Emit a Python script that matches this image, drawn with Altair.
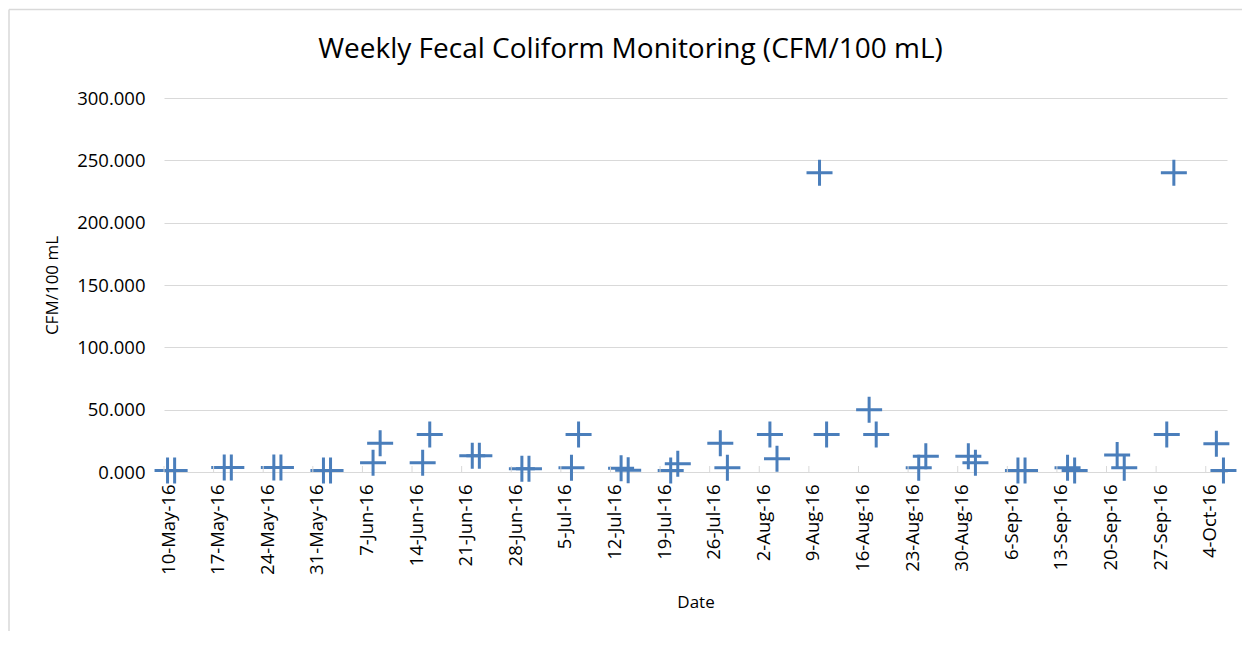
import altair as alt
import pandas as pd

# ---- data ----
dates = [
    "2016-05-10", "2016-05-11", "2016-05-18", "2016-05-19", "2016-05-25", "2016-05-26",
    "2016-06-01", "2016-06-02", "2016-06-08", "2016-06-09", "2016-06-15", "2016-06-16",
    "2016-06-22", "2016-06-23", "2016-06-29", "2016-06-30", "2016-07-06", "2016-07-07",
    "2016-07-13", "2016-07-14", "2016-07-20", "2016-07-21", "2016-07-27", "2016-07-28",
    "2016-08-03", "2016-08-04", "2016-08-10", "2016-08-11", "2016-08-17", "2016-08-18",
    "2016-08-24", "2016-08-25", "2016-08-31", "2016-09-01", "2016-09-07", "2016-09-08",
    "2016-09-14", "2016-09-15", "2016-09-21", "2016-09-22", "2016-09-28", "2016-09-29",
    "2016-10-05", "2016-10-06",
]
values = [
    1.3, 1.3, 3.6, 3.6, 3.6, 3.6,
    1.3, 1.3, 7.5, 23.0, 7.5, 30.0,
    13.0, 13.0, 2.6, 2.6, 3.4, 30.0,
    3.0, 1.5, 1.3, 6.6, 23.0, 3.4,
    30.0, 10.7, 240.0, 30.0, 50.0, 30.0,
    3.4, 12.6, 12.6, 7.5, 1.3, 1.3,
    3.4, 1.3, 13.6, 3.4, 30.0, 240.0,
    22.7, 1.3,
]
tick_dates = [
    "2016-05-10", "2016-05-17", "2016-05-24", "2016-05-31", "2016-06-07", "2016-06-14",
    "2016-06-21", "2016-06-28", "2016-07-05", "2016-07-12", "2016-07-19", "2016-07-26",
    "2016-08-02", "2016-08-09", "2016-08-16", "2016-08-23", "2016-08-30", "2016-09-06",
    "2016-09-13", "2016-09-20", "2016-09-27", "2016-10-04",
]
x_domain = ["2016-05-10", "2016-10-07"]
y_ticks = [0, 50, 100, 150, 200, 250, 300]
chart_title = "Weekly Fecal Coliform Monitoring (CFM/100 mL)"
x_title = "Date"
y_title = "CFM/100 mL"

FONT = "Open Sans"
BLUE = "#4A7EBB"
GRID = "#d9d9d9"
W, H = 1063, 374


def dt(s):
    y, m, d = map(int, s.split("-"))
    return alt.DateTime(year=y, month=m, date=d)


df = pd.DataFrame({"date": dates, "value": values})
ticks_df = pd.DataFrame({"date": tick_dates})
one = pd.DataFrame({"k": [0]})

x_scale = alt.Scale(domain=[dt(x_domain[0]), dt(x_domain[1])], nice=False)
y_scale = alt.Scale(domain=[0, 300], nice=False)

x_axis = alt.Axis(
    values=[dt(s) for s in tick_dates], format="%-d-%b-%y",
    labelAngle=270, labelOffset=4, labelPadding=12, labelFlush=False, labelOverlap=False,
    labelFont=FONT, labelFontSize=18.5, labelColor="#000000",
    ticks=False, grid=False, domainColor=GRID, domainWidth=1,
    title=x_title, titleFont=FONT, titleFontSize=17, titleFontWeight="normal",
    titleColor="#000000", titleX=W / 2, titleY=130, titleBaseline="middle", titleAlign="center",
)
y_axis = alt.Axis(
    values=y_ticks, format=".3f", ticks=False, domain=False,
    grid=True, gridColor=GRID, gridWidth=1,
    labelPadding=19, labelFont=FONT, labelFontSize=18.5, labelColor="#000000",
    title=y_title, titleFont=FONT, titleFontSize=17, titleFontWeight="normal",
    titleColor="#000000", titleX=-111.5, titleY=H / 2, titleAngle=270,
    titleBaseline="middle", titleAlign="center",
)

# each sample sits in the middle of its day, as on a date axis
points = alt.Chart(df).transform_calculate(
    day="datetime(year(datum.date), month(datum.date), date(datum.date), 12)"
).mark_point(
    shape="M-1,0L1,0M0,-1L0,1", size=676, filled=False, strokeWidth=3,
    color=BLUE, opacity=1,
).encode(
    x=alt.X("day:T", scale=x_scale, axis=x_axis),
    y=alt.Y("value:Q", scale=y_scale, axis=y_axis),
)

inner_ticks = alt.Chart(ticks_df).transform_calculate(
    day="datetime(year(datum.date), month(datum.date), date(datum.date))"
).mark_rule(color=GRID, strokeWidth=1).encode(
    x=alt.X("day:T", scale=x_scale, axis=x_axis),
    y=alt.value(H - 6),
    y2=alt.value(H),
)

title_mark = alt.Chart(one).mark_text(
    text=chart_title, font=FONT, fontSize=28, color="#000000",
    align="center", baseline="alphabetic",
).encode(x=alt.value(466.5), y=alt.value(-40))

border_left = alt.Chart(one).mark_rule(color=GRID, strokeWidth=1.5).encode(
    x=alt.value(-155), y=alt.value(-88.5), y2=alt.value(533),
)
border_top = alt.Chart(one).mark_rule(color=GRID, strokeWidth=1.5).encode(
    x=alt.value(-155), x2=alt.value(1078), y=alt.value(-88.5),
)

chart = alt.layer(points, inner_ticks, border_left, border_top, title_mark).properties(
    width=W, height=H, padding={"left": 0, "top": 0, "right": 0, "bottom": 0},
    background="white",
).configure_view(stroke=None)

chart.save("out.html", embed_options={"renderer": "svg", "actions": False})
